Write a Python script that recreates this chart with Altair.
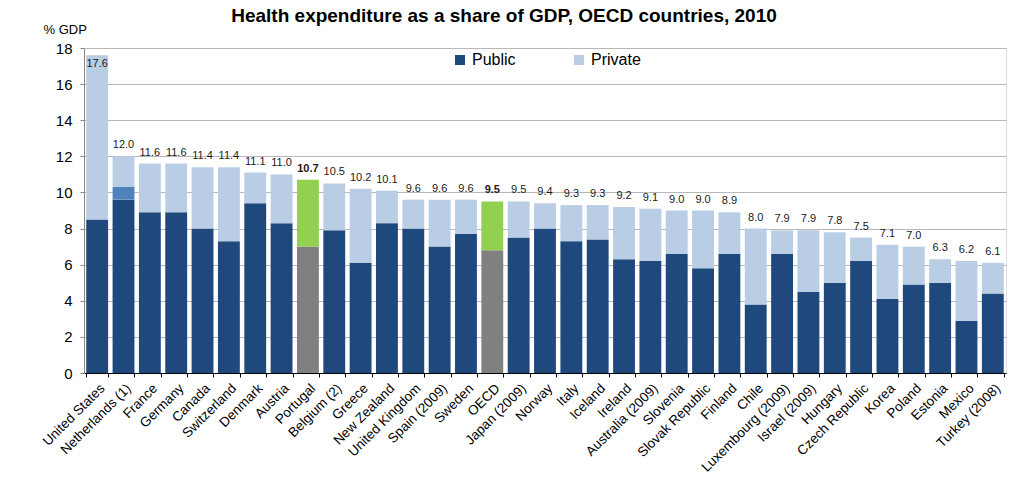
import altair as alt
import pandas as pd

countries = ["United States", "Netherlands (1)", "France", "Germany", "Canada", "Switzerland",
             "Denmark", "Austria", "Portugal", "Belgium (2)", "Greece", "New Zealand",
             "United Kingdom", "Spain (2009)", "Sweden", "OECD", "Japan (2009)", "Norway",
             "Italy", "Iceland", "Ireland", "Australia (2009)", "Slovenia", "Slovak Republic",
             "Finland", "Chile", "Luxembourg (2009)", "Israel (2009)", "Hungary",
             "Czech Republic", "Korea", "Poland", "Estonia", "Mexico", "Turkey (2008)"]
total = [17.6, 12.0, 11.6, 11.6, 11.4, 11.4, 11.1, 11.0, 10.7, 10.5, 10.2, 10.1,
         9.6, 9.6, 9.6, 9.5, 9.5, 9.4, 9.3, 9.3, 9.2, 9.1, 9.0, 9.0,
         8.9, 8.0, 7.9, 7.9, 7.8, 7.5, 7.1, 7.0, 6.3, 6.2, 6.1]
public = [8.5, 9.6, 8.9, 8.9, 8.0, 7.3, 9.4, 8.3, 7.0, 7.9, 6.1, 8.3,
          8.0, 7.0, 7.7, 6.8, 7.5, 8.0, 7.3, 7.4, 6.3, 6.2, 6.6, 5.8,
          6.6, 3.8, 6.6, 4.5, 5.0, 6.2, 4.1, 4.9, 5.0, 2.9, 4.4]
# Netherlands: part of expenditure not allocated between public and private
unallocated = {"Netherlands (1)": 0.7}
highlight = ["Portugal", "OECD"]
y_ticks = [0, 2, 4, 6, 8, 10, 12, 14, 16, 18]

seg_domain = ["Public", "Private", "Public ", "Private ", "Unallocated"]
seg_range = ["#1f497d", "#b9cde5", "#808080", "#92d050", "#4f81bd"]

rows = []
for c, t, p in zip(countries, total, public):
    hl = c in highlight
    u = unallocated.get(c, 0.0)
    rows.append(dict(country=c, seg="Public " if hl else "Public", y0=0.0, y1=p, order=0))
    if u > 0:
        rows.append(dict(country=c, seg="Unallocated", y0=p, y1=p + u, order=1))
    rows.append(dict(country=c, seg="Private " if hl else "Private", y0=p + u, y1=t, order=2))
bars_df = pd.DataFrame(rows)

labels_df = pd.DataFrame({"country": countries, "total": total})
labels_df["kind"] = ["inside" if c == "United States" else ("bold" if c in highlight else "normal")
                     for c in countries]

FONT = "Liberation Sans"

x_scale = alt.Scale(paddingInner=0.17, paddingOuter=0.085)
y_scale = alt.Scale(domain=[0, 18], nice=False)

x_axis = alt.Axis(title=None, labelAngle=-45, labelFontSize=13.5, labelFont=FONT,
                  labelColor="black", tickBand="extent", tickSize=4,
                  tickColor="black", domainColor="black", grid=False,
                  labelPadding=4, labelOverlap=False)
y_axis = alt.Axis(values=y_ticks, title="% GDP", titleAngle=0,
                  titleX=-41, titleY=-15, titleAlign="left",
                  titleBaseline="alphabetic", titleFont=FONT, titleFontSize=13,
                  titleFontWeight="normal", titleColor="black",
                  labelFont=FONT, labelFontSize=15, labelColor="black",
                  labelOverlap=False, labelFlush=False,
                  tickSize=4, tickColor="#888888", domainColor="#888888",
                  gridColor="#b8b8b8", labelPadding=8)

bars = alt.Chart(bars_df).mark_bar().encode(
    x=alt.X("country:N", sort=countries, scale=x_scale, axis=x_axis),
    y=alt.Y("y0:Q", scale=y_scale, axis=y_axis),
    y2="y1:Q",
    color=alt.Color("seg:N", scale=alt.Scale(domain=seg_domain, range=seg_range),
                    legend=alt.Legend(values=["Public", "Private"], title=None,
                                      orient="none", legendX=368, legendY=4,
                                      direction="horizontal", symbolType="square",
                                      symbolSize=100, symbolStrokeWidth=0,
                                      labelFont=FONT, labelFontSize=16, labelColor="black",
                                      labelOffset=4, columnPadding=55, padding=0)),
    order="order:Q",
)

base_text = alt.Chart(labels_df).encode(
    x=alt.X("country:N", sort=countries, scale=x_scale, axis=x_axis),
    y=alt.Y("total:Q", scale=y_scale, axis=y_axis),
    text=alt.Text("total:Q", format=".1f"),
)

normal = base_text.transform_filter(alt.datum.kind == "normal").mark_text(
    dy=-8, baseline="alphabetic", font=FONT, fontSize=11, color="#1a1a1a")
bold = base_text.transform_filter(alt.datum.kind == "bold").mark_text(
    dy=-8, baseline="alphabetic", font=FONT, fontSize=11, fontWeight="bold", color="#1a1a1a")
inside = base_text.transform_filter(alt.datum.kind == "inside").mark_text(
    dy=12, baseline="alphabetic", font=FONT, fontSize=11, color="#1a1a1a")

chart = alt.layer(bars, normal, bold, inside).properties(
    width=922, height=325,
    autosize=alt.AutoSizeParams(type="none"),
    padding={"left": 84, "top": 48, "right": 23, "bottom": 107},
    title=alt.TitleParams("Health expenditure as a share of GDP, OECD countries, 2010",
                          font=FONT, fontSize=19, fontWeight="bold", color="black",
                          anchor="middle", dx=-41, dy=21, offset=3, baseline="alphabetic"),
).configure_view(stroke="#8c8c8c", strokeWidth=1).configure(background="white")

chart.save("out.html", embed_options={"renderer": "svg", "actions": False})
